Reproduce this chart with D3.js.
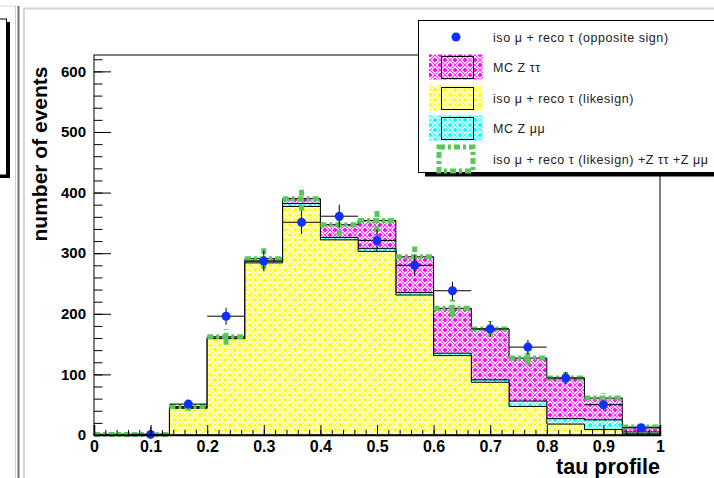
<!DOCTYPE html>
<html>
<head>
<meta charset="utf-8">
<script src="https://cdn.jsdelivr.net/npm/d3@7"></script>
<style>
  html, body { margin: 0; padding: 0; background: #ffffff; }
  svg { display: block; }
  text { font-family: "Liberation Sans", Arial, Helvetica, sans-serif; }
</style>
</head>
<body>
<svg id="chart" width="714" height="478"></svg>
<script>
// ---- histogram contents: 15 bins of tau profile between 0 and 1 ----
const binRange = [0, 1];
const nBins = 15;

// iso mu + reco tau, like-sign sample (bottom of the stack)
const likeSign   = [1, 1, 44, 159, 284, 377, 322, 303, 231, 131, 87, 47, 18, 9, 2];
// MC Z -> mu mu (middle of the stack)
const zMuMu      = [0, 0, 1, 1, 3, 5, 4, 5, 4, 4, 4, 9, 9, 16, 3];
// MC Z -> tau tau (top of the stack)
const zTauTau    = [0, 0, 2, 2, 4, 8, 21, 46, 59, 74, 84, 71, 67, 36, 8];
// iso mu + reco tau, opposite-sign data (null = empty bin, not drawn)
const dataOS     = [null, 1, 51, 196, 287, 351, 361, 321, 280, 238, 175, 145, 94, 50, 12];
const dataOSErr  = [0, 12, 7, 14, 17, 19, 19, 18, 17, 15, 13, 12, 10, 7, 3];
// uncertainty of the summed prediction
const sumErr     = [1, 1, 7, 13, 17, 20, 19, 19, 17, 14, 13, 11, 10, 8, 4];

const xTickLabels = ["0", "0.1", "0.2", "0.3", "0.4", "0.5", "0.6", "0.7", "0.8", "0.9", "1"];
const yTickValues = [0, 100, 200, 300, 400, 500, 600];
const yMax = 627;

const legendLabels = [
  "iso \u03bc  + reco  \u03c4 (opposite sign)",
  "MC Z \u03c4\u03c4",
  "iso \u03bc  + reco \u03c4 (likesign)",
  "MC Z \u03bc\u03bc",
  "iso \u03bc  + reco \u03c4 (likesign) +Z \u03c4\u03c4 +Z \u03bc\u03bc"
];

// ---- geometry ----
const frame = { left: 94, right: 660, top: 55, bottom: 435 };
const svg = d3.select("#chart");

const x = d3.scaleLinear().domain(binRange).range([frame.left, frame.right]);
const y = d3.scaleLinear().domain([0, yMax]).range([frame.bottom, frame.top]);

const binW = (binRange[1] - binRange[0]) / nBins;
const bins = d3.range(nBins).map(i => ({
  i,
  lo: binRange[0] + i * binW,
  hi: binRange[0] + (i + 1) * binW,
  mid: binRange[0] + (i + 0.5) * binW
}));

// cumulative stack levels
const lvlYellow = likeSign.slice();
const lvlCyan = likeSign.map((v, i) => v + zMuMu[i]);
const lvlTotal = lvlCyan.map((v, i) => v + zTauTau[i]);

// ---- fill patterns: coloured basket weave on white ----
const defs = svg.append("defs");
function weave(id, color) {
  const p = defs.append("pattern")
    .attr("id", id).attr("patternUnits", "userSpaceOnUse")
    .attr("width", 10).attr("height", 10);
  p.append("rect").attr("width", 10).attr("height", 10).attr("fill", color);
  p.append("path")
    .attr("d",
      "M0,1.5L3.5,5M1.5,0L5,3.5" +      // top-left  "\"
      "M5,3.5L8.5,0M6.5,5L10,1.5" +     // top-right "/"
      "M0,8.5L3.5,5M1.5,10L5,6.5" +     // bottom-left "/"
      "M5,6.5L8.5,10M6.5,5L10,8.5")     // bottom-right "\"
    .attr("stroke", "#ffffff").attr("stroke-width", 1.3)
    .attr("fill", "none").attr("stroke-linecap", "square");
}
weave("pMagenta", "#ff00ff");
weave("pYellow", "#ffff00");
weave("pCyan", "#00ffff");

// ---- window decoration around the pad ----
const deco = svg.append("g");
deco.append("line").attr("x1", 0).attr("x2", 16).attr("y1", 6).attr("y2", 6)
  .attr("stroke", "#dddddd").attr("stroke-width", 1);
deco.append("rect").attr("x", 0).attr("y", 22).attr("width", 10).attr("height", 156).attr("fill", "#000");
deco.append("rect").attr("x", -1).attr("y", 19).attr("width", 7.5).attr("height", 156)
  .attr("fill", "#fff").attr("stroke", "#000").attr("stroke-width", 1);
deco.append("line").attr("x1", 15.5).attr("x2", 15.5).attr("y1", 6).attr("y2", 478)
  .attr("stroke", "#d0d0d0").attr("stroke-width", 1);
deco.append("line").attr("x1", 18.5).attr("x2", 18.5).attr("y1", 6).attr("y2", 478)
  .attr("stroke", "#707070").attr("stroke-width", 2);
deco.append("line").attr("x1", 24).attr("x2", 24).attr("y1", 8).attr("y2", 478)
  .attr("stroke", "#d4d4d4").attr("stroke-width", 2);
deco.append("line").attr("x1", 24).attr("x2", 714).attr("y1", 8.5).attr("y2", 8.5)
  .attr("stroke", "#d4d4d4").attr("stroke-width", 2);

// ---- stacked histogram fills ----
const plot = svg.append("g");
function stepPath(levels) {
  let d = `M${x(binRange[0])},${y(0)}`;
  bins.forEach(b => {
    d += `L${x(b.lo)},${y(levels[b.i])}L${x(b.hi)},${y(levels[b.i])}`;
  });
  d += `L${x(binRange[1])},${y(0)}Z`;
  return d;
}
[[lvlTotal, "pMagenta"], [lvlCyan, "pCyan"], [lvlYellow, "pYellow"]].forEach(([lv, pat]) => {
  plot.append("path").attr("d", stepPath(lv))
    .attr("fill", `url(#${pat})`).attr("stroke", "#000").attr("stroke-width", 1);
});

// ---- summed prediction: thick dashed green error bars ----
const green = "#58c858";
const gg = plot.append("g").attr("stroke", green).attr("stroke-width", 5)
  .attr("stroke-dasharray", "6,3,3,3").attr("fill", "none");
gg.selectAll("line.h").data(bins).join("line").attr("class", "h")
  .attr("x1", b => x(b.lo)).attr("x2", b => x(b.hi))
  .attr("y1", b => y(lvlTotal[b.i])).attr("y2", b => y(lvlTotal[b.i]));
gg.selectAll("line.v").data(bins.filter(b => sumErr[b.i] > 2)).join("line").attr("class", "v")
  .attr("x1", b => x(b.mid)).attr("x2", b => x(b.mid))
  .attr("y1", b => y(lvlTotal[b.i] - sumErr[b.i])).attr("y2", b => y(lvlTotal[b.i] + sumErr[b.i]));

// ---- opposite-sign data with error bars ----
const pts = bins.filter(b => dataOS[b.i] !== null);
const eg = plot.append("g").attr("stroke", "#000").attr("stroke-width", 1);
eg.selectAll("line.h").data(pts).join("line").attr("class", "h")
  .attr("x1", b => x(b.lo)).attr("x2", b => x(b.hi))
  .attr("y1", b => y(dataOS[b.i])).attr("y2", b => y(dataOS[b.i]));
eg.selectAll("line.v").data(pts).join("line").attr("class", "v")
  .attr("x1", b => x(b.mid)).attr("x2", b => x(b.mid))
  .attr("y1", b => y(Math.max(0, dataOS[b.i] - dataOSErr[b.i]))).attr("y2", b => y(dataOS[b.i] + dataOSErr[b.i]));
plot.selectAll("circle.d").data(pts).join("circle").attr("class", "d")
  .attr("cx", b => x(b.mid)).attr("cy", b => y(dataOS[b.i])).attr("r", 4.5)
  .attr("fill", "#1030ff");

// ---- frame and axes ----
svg.append("rect").attr("x", frame.left).attr("y", frame.top)
  .attr("width", frame.right - frame.left).attr("height", frame.bottom - frame.top)
  .attr("fill", "none").attr("stroke", "#000").attr("stroke-width", 1);

const xMajor = d3.range(xTickLabels.length).map(i => i / (xTickLabels.length - 1));
const xMinor = d3.range(51).map(i => i / 50);
const xAxisMinor = d3.axisBottom(x).tickValues(xMinor).tickSize(-5).tickFormat("");
const xAxis = d3.axisBottom(x).tickValues(xMajor).tickSize(-10).tickPadding(6)
  .tickFormat((d, i) => xTickLabels[i]);
svg.append("g").attr("transform", `translate(0,${frame.bottom})`).call(xAxisMinor)
  .call(g => g.select(".domain").remove());
svg.append("g").attr("transform", `translate(0,${frame.bottom})`).call(xAxis)
  .call(g => g.select(".domain").attr("stroke-width", 1.5))
  .call(g => g.selectAll("text").attr("font-size", 16).attr("font-weight", "bold").attr("fill", "#000")
    .attr("font-family", "'Liberation Sans', Arial, sans-serif"));

const yMinor = d3.range(0, yMax, 20);
const yAxisMinor = d3.axisLeft(y).tickValues(yMinor).tickSize(-8.5).tickFormat("");
const yAxis = d3.axisLeft(y).tickValues(yTickValues).tickSize(-17).tickPadding(8)
  .tickFormat(d3.format("d"));
svg.append("g").attr("transform", `translate(${frame.left},0)`).call(yAxisMinor)
  .call(g => g.select(".domain").remove());
svg.append("g").attr("transform", `translate(${frame.left},0)`).call(yAxis)
  .call(g => g.select(".domain").remove())
  .call(g => g.selectAll("text").attr("font-size", 15).attr("font-weight", "bold").attr("fill", "#000")
    .attr("font-family", "'Liberation Sans', Arial, sans-serif"));

// axis titles
svg.append("text").attr("x", frame.right).attr("y", 474).attr("text-anchor", "end")
  .attr("font-size", 21.5).attr("font-weight", "bold").text("tau profile");
svg.append("text").attr("transform", "translate(47,154) rotate(-90)").attr("text-anchor", "middle")
  .attr("font-size", 21).attr("font-weight", "bold").text("number of events");

// ---- legend ----
const lg = svg.append("g");
lg.append("rect").attr("x", 425).attr("y", 172).attr("width", 300).attr("height", 4.5).attr("fill", "#000");
lg.append("rect").attr("x", 418.5).attr("y", 20.5).attr("width", 300).attr("height", 152)
  .attr("fill", "#fff").attr("stroke", "#000").attr("stroke-width", 1);
const rowY = [37, 67, 98, 128, 159];
const symX = 456;
lg.append("circle").attr("cx", symX).attr("cy", rowY[0]).attr("r", 4.5).attr("fill", "#1030ff");
["pMagenta", "pYellow", "pCyan"].forEach((pat, k) => {
  const cy = rowY[k + 1];
  lg.append("rect").attr("x", 429).attr("y", cy - 12.5).attr("width", 54).attr("height", 25)
    .attr("fill", `url(#${pat})`);
  lg.append("rect").attr("x", 441.5).attr("y", cy - 10.5).attr("width", 32).attr("height", 22)
    .attr("fill", "none").attr("stroke", "#000").attr("stroke-width", 1);
});
lg.append("rect").attr("x", symX - 17).attr("y", rowY[4] - 12).attr("width", 34).attr("height", 24)
  .attr("fill", "none").attr("stroke", green).attr("stroke-width", 5).attr("stroke-dasharray", "6,3,3,3");
lg.selectAll("text.l").data(legendLabels).join("text").attr("class", "l")
  .attr("x", 493).attr("y", (d, i) => rowY[i] + 4.5).attr("font-size", 12.5)
  .attr("letter-spacing", 0.55).attr("fill", "#222")
  .text(d => d);
</script>
</body>
</html>
